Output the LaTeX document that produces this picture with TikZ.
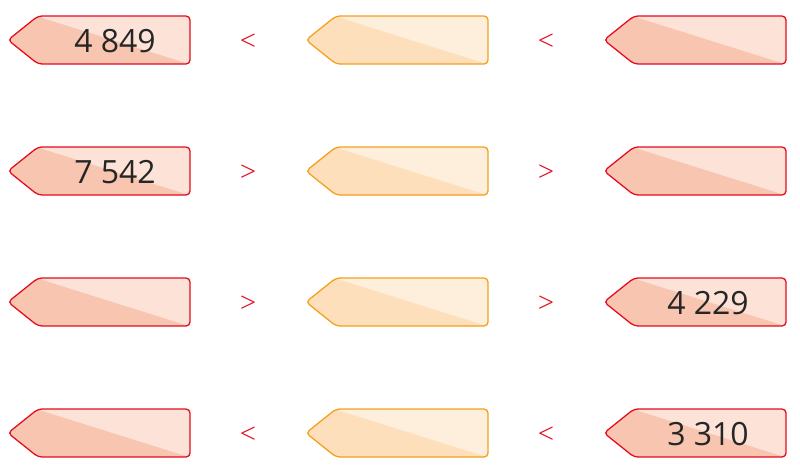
\documentclass[tikz,border=0pt]{standalone}
\usepackage{fontspec}
\usepackage{graphicx}
\setmainfont{Open Sans}
\definecolor{redline}{HTML}{E30D1F}
\definecolor{reddark}{HTML}{F8C5B0}
\definecolor{redlight}{HTML}{FDE3D7}
\definecolor{orline}{HTML}{F4A01C}
\definecolor{ordark}{HTML}{FDDFBC}
\definecolor{orlight}{HTML}{FEEEDC}
\definecolor{numgray}{HTML}{262626}
\tikzset{
  numtext/.style={font=\fontsize{32}{36}\selectfont, text=numgray, inner sep=0pt},
  signtext/.style={text=redline, inner sep=0pt}
}
\newcommand{\lesssign}{\scalebox{1.95}{\boldmath$<$}}
\newcommand{\moresign}{\scalebox{1.95}{\boldmath$>$}}
% #1 left x, #2 top y, #3 dark fill, #4 light fill, #5 border
\newcommand{\numtag}[5]{%
  \begin{scope}
    \clip[rounded corners=4] (#1,#2+24) -- (#1+30,#2) -- (#1+182,#2) -- (#1+182,#2+48) -- (#1+30,#2+48) -- cycle;
    \fill[#4] (#1-2,#2-2) rectangle (#1+184,#2+50);
    \fill[#3] (#1+28,#2) -- (#1+184,#2+49) -- (#1-2,#2+50) -- (#1-2,#2) -- cycle;
  \end{scope}
  \draw[#5, line width=1.3, rounded corners=4] (#1,#2+24) -- (#1+30,#2) -- (#1+182,#2) -- (#1+182,#2+48) -- (#1+30,#2+48) -- cycle;
}
\begin{document}
\begin{tikzpicture}[x=1pt,y=-1pt]
\useasboundingbox (0,0) rectangle (800,469);

% row 1
\numtag{8}{16}{reddark}{redlight}{redline}
\numtag{306}{16}{ordark}{orlight}{orline}
\numtag{604}{16}{reddark}{redlight}{redline}
\node[numtext] (a1) at (115,41) {4 849};
\node[signtext] (s11) at (248,41) {\lesssign};
\node[signtext] (s12) at (546,41) {\lesssign};

% row 2
\numtag{8}{147}{reddark}{redlight}{redline}
\numtag{306}{147}{ordark}{orlight}{orline}
\numtag{604}{147}{reddark}{redlight}{redline}
\node[numtext] (a2) at (115,172) {7 542};
\node[signtext] (s21) at (248,172) {\moresign};
\node[signtext] (s22) at (546,172) {\moresign};

% row 3
\numtag{8}{278}{reddark}{redlight}{redline}
\numtag{306}{278}{ordark}{orlight}{orline}
\numtag{604}{278}{reddark}{redlight}{redline}
\node[numtext] (c3) at (708,303) {4 229};
\node[signtext] (s31) at (248,303) {\moresign};
\node[signtext] (s32) at (546,303) {\moresign};

% row 4
\numtag{8}{409}{reddark}{redlight}{redline}
\numtag{306}{409}{ordark}{orlight}{orline}
\numtag{604}{409}{reddark}{redlight}{redline}
\node[numtext] (c4) at (708,434) {3 310};
\node[signtext] (s41) at (248,434) {\lesssign};
\node[signtext] (s42) at (546,434) {\lesssign};
\end{tikzpicture}
\end{document}
